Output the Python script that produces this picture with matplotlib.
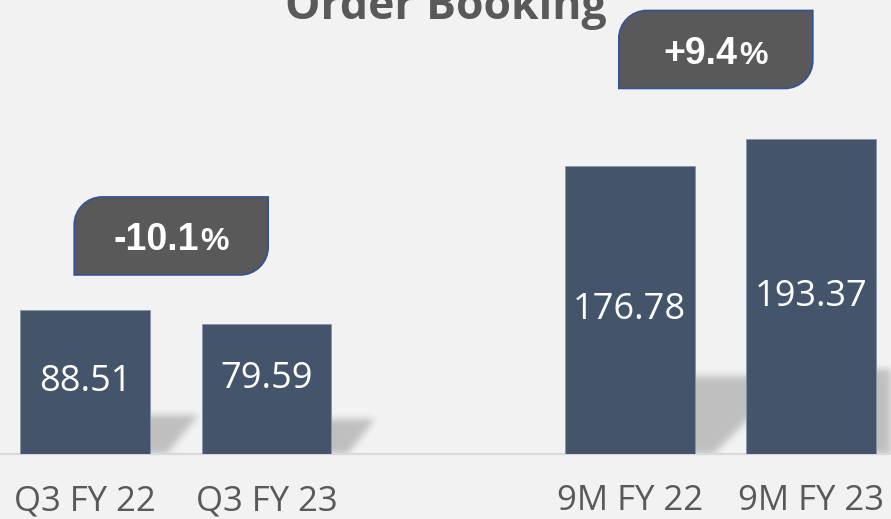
import numpy as np
import matplotlib
matplotlib.use("Agg")
import matplotlib.pyplot as plt
from matplotlib.path import Path
from matplotlib.patches import PathPatch
from matplotlib.transforms import ScaledTranslation
from matplotlib.offsetbox import TextArea, HPacker, AnnotationBbox

# ---- data -------------------------------------------------------------
categories = ["Q3 FY 22", "Q3 FY 23", "9M FY 22", "9M FY 23"]
values = [88.51, 79.59, 176.78, 193.37]
# bars compared in each growth badge (index pairs)
pairs = [(0, 1), (2, 3)]

# ---- layout -----------------------------------------------------------
positions = [0, 1, 3, 4]
bar_width = 0.716
label_frac = [0.5, 0.58, 0.5, 0.5]      # value label height as fraction of bar
badge_y = [134, 248.6]                  # badge centres (data units)
BG = "#f2f2f2"
BAR = "#44546a"
GREY_TXT = "#595959"

fig = plt.figure(figsize=(8.91, 5.19), dpi=100, facecolor=BG)
ax = fig.add_axes([0, 65 / 519, 1, 454 / 519])
ax.set_facecolor(BG)
ax.set_xlim(-0.468, 4.44)
ax.set_ylim(0, 279)

ax.bar(positions, values, width=bar_width, color=BAR, edgecolor="#8796ab",
       linewidth=0.6, zorder=3)

# ---- soft perspective shadows behind the bars --------------------------
bb = ax.bbox
W, H = int(round(bb.width)), int(round(bb.height))
yy, xx = np.mgrid[0:H, 0:W] + 0.5
pts = np.column_stack([(bb.x0 + xx).ravel(), (bb.y1 - yy).ravel()])
mask = np.zeros((H, W))
for p, v in zip(positions, values):
    (xl, y0), (xr, yt) = ax.transData.transform(
        [(p - bar_width / 2, 0), (p + bar_width / 2, v)])
    h = 0.27 * (yt - y0)
    s = 1.25 * h
    poly = Path([(xl + 4, y0 - 15), (xr + 4, y0 - 15), (xr + s, y0 + h),
                 (xl + s, y0 + h), (xl + 4, y0 - 15)])
    inside = poly.contains_points(pts).reshape(H, W)
    mask = np.maximum(mask, inside.astype(float))

sig = 3.5
k = np.exp(-0.5 * (np.arange(-12, 13) / sig) ** 2)
k /= k.sum()
mask = np.apply_along_axis(lambda r: np.convolve(r, k, mode="same"), 1, mask)
mask = np.apply_along_axis(lambda c: np.convolve(c, k, mode="same"), 0, mask)
rgba = np.zeros((H, W, 4))
rgba[..., 3] = 0.21 * mask
ax.imshow(rgba, extent=(*ax.get_xlim(), *ax.get_ylim()), origin="upper",
          aspect="auto", zorder=2, interpolation="bilinear")
ax.set_xlim(-0.468, 4.44)
ax.set_ylim(0, 279)

# ---- value labels inside bars -----------------------------------------
for p, v, f in zip(positions, values, label_frac):
    ax.text(p, v * f, f"{v:.2f}", ha="center", va="center", color="white",
            fontsize=26, family="Open Sans", zorder=5)

# ---- axes styling -----------------------------------------------------
for side in ("top", "right", "left"):
    ax.spines[side].set_visible(False)
ax.spines["bottom"].set_color("#d9d9d9")
ax.spines["bottom"].set_linewidth(1.6)
ax.set_yticks([])
ax.set_xticks(positions, [""] * len(positions))
ax.tick_params(axis="x", length=0)

# category labels, baseline just above the bottom edge
xlab_trans = ax.get_xaxis_transform()
for p, c in zip(positions, categories):
    ax.text(p, -56 / 454, c, transform=xlab_trans, ha="center",
            va="baseline", fontsize=25, color=GREY_TXT, family="Open Sans",
            clip_on=False)

# ---- growth badges ----------------------------------------------------
bw, bh, r = 1.94, 0.78, 0.28
kc = 0.5523 * r
verts = [
    (-bw / 2, -bh / 2),
    (bw / 2 - r, -bh / 2),
    (bw / 2 - r + kc, -bh / 2), (bw / 2, -bh / 2 + r - kc), (bw / 2, -bh / 2 + r),
    (bw / 2, bh / 2),
    (-bw / 2 + r, bh / 2),
    (-bw / 2 + r - kc, bh / 2), (-bw / 2, bh / 2 - r + kc), (-bw / 2, bh / 2 - r),
    (-bw / 2, -bh / 2),
]
codes = [Path.MOVETO, Path.LINETO, Path.CURVE4, Path.CURVE4, Path.CURVE4,
         Path.LINETO, Path.LINETO, Path.CURVE4, Path.CURVE4, Path.CURVE4,
         Path.CLOSEPOLY]
badge_path = Path(verts, codes)

for (i, j), cy in zip(pairs, badge_y):
    cx = (positions[i] + positions[j]) / 2 - 0.025
    change = (values[j] - values[i]) / values[i] * 100
    tr = fig.dpi_scale_trans + ScaledTranslation(cx, cy, ax.transData)
    ax.add_patch(PathPatch(badge_path, transform=tr, facecolor="#595959",
                           edgecolor="#2f5597", linewidth=1.2, zorder=6))
    num = TextArea(f"{change:+.1f}",
                   textprops=dict(color="white", fontsize=27, weight="bold",
                                  family="Liberation Sans"))
    pct = TextArea("%", textprops=dict(color="white", fontsize=23,
                                       weight="bold", family="Liberation Sans"))
    box = HPacker(children=[num, pct], align="baseline", pad=0, sep=1)
    ax.add_artist(AnnotationBbox(box, (cx, cy), xybox=(0, -3),
                                 boxcoords="offset points", frameon=False,
                                 box_alignment=(0.5, 0.5), zorder=7,
                                 annotation_clip=False))

# ---- title (partially above the canvas) --------------------------------
fig.text(0.5, 1 - 19 / 519, "Order Booking", ha="center", va="baseline",
         fontsize=32, weight="bold", color=GREY_TXT, family="Open Sans")

fig.savefig("out.png", dpi=100, facecolor=BG)
